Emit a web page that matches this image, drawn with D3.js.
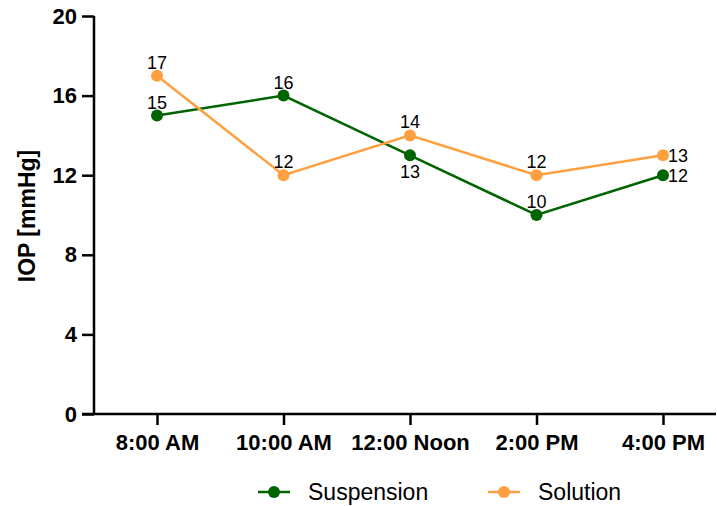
<!DOCTYPE html>
<html>
<head>
<meta charset="utf-8">
<script src="https://cdn.jsdelivr.net/npm/d3@7"></script>
<style>
  body { margin: 0; background: #fff; }
  text { font-family: Arial, "Liberation Sans", sans-serif; }
</style>
</head>
<body>
<svg id="chart" width="717" height="506"></svg>
<script>
// data
var times = ["8:00 AM", "10:00 AM", "12:00 Noon", "2:00 PM", "4:00 PM"];
var suspension = [15, 16, 13, 10, 12];
var solution = [17, 12, 14, 12, 13];
var yTicks = [0, 4, 8, 12, 16, 20];
// where each value label sits relative to its point
var suspensionLabelPos = ["above", "above", "below", "above", "right"];
var solutionLabelPos = ["above", "above", "above", "above", "right"];

var green = "#006400", orange = "#FFA040";

var svg = d3.select("#chart");
var x = d3.scalePoint().domain(times).range([157, 663]);
var y = d3.scaleLinear().domain([0, 20]).range([414, 16]);

// y axis
var yAxis = svg.append("g").attr("transform", "translate(94,0)")
  .call(d3.axisLeft(y).tickValues(yTicks).tickSize(12).tickPadding(5));
yAxis.select(".domain").attr("d", "M0," + y(20) + "V" + y(0));
yAxis.selectAll("line, path").attr("stroke", "#000").attr("stroke-width", 2.5);
yAxis.selectAll("text").attr("font-size", 22).attr("font-weight", "bold").attr("fill", "#000");

// x axis
var xAxis = svg.append("g").attr("transform", "translate(0," + y(0) + ")")
  .call(d3.axisBottom(x).tickSize(11).tickPadding(9));
xAxis.select(".domain").attr("d", "M82,0H716");
xAxis.selectAll("line, path").attr("stroke", "#000").attr("stroke-width", 2.5);
xAxis.selectAll("text").attr("font-size", 22).attr("font-weight", "bold").attr("fill", "#000");

svg.append("text")
  .attr("transform", "translate(35,216) rotate(-90)")
  .attr("text-anchor", "middle")
  .attr("font-size", 23).attr("font-weight", "bold")
  .text("IOP [mmHg]");

function drawSeries(values, color, labelPos) {
  var pts = values.map(function(v, i) { return { t: times[i], v: v, pos: labelPos[i] }; });
  var line = d3.line().x(function(d) { return x(d.t); }).y(function(d) { return y(d.v); });
  svg.append("path").datum(pts)
    .attr("d", line).attr("fill", "none")
    .attr("stroke", color).attr("stroke-width", 2.5);
  svg.selectAll(null).data(pts).enter().append("circle")
    .attr("cx", function(d) { return x(d.t); })
    .attr("cy", function(d) { return y(d.v); })
    .attr("r", 6).attr("fill", color);
  svg.selectAll(null).data(pts).enter().append("text")
    .attr("x", function(d) { return d.pos == "right" ? x(d.t) + 5 : x(d.t); })
    .attr("y", function(d) {
      if (d.pos == "above") return y(d.v) - 7;
      if (d.pos == "below") return y(d.v) + 23;
      return y(d.v) + 7;
    })
    .attr("text-anchor", function(d) { return d.pos == "right" ? "start" : "middle"; })
    .attr("font-size", 18).attr("fill", "#000")
    .text(function(d) { return d.v; });
}

drawSeries(suspension, green, suspensionLabelPos);
drawSeries(solution, orange, solutionLabelPos);

// legend
var legend = [
  { name: "Suspension", color: green, x: 258 },
  { name: "Solution", color: orange, x: 488 }
];
var lg = svg.selectAll("g.legend").data(legend).enter().append("g")
  .classed("legend", true)
  .attr("transform", function(d) { return "translate(" + d.x + ",492)"; });
lg.append("line").attr("x1", 0).attr("x2", 32).attr("y1", 0).attr("y2", 0)
  .attr("stroke", function(d) { return d.color; }).attr("stroke-width", 2.5);
lg.append("circle").attr("cx", 16).attr("cy", 0).attr("r", 6)
  .attr("fill", function(d) { return d.color; });
lg.append("text").attr("x", 50).attr("y", 8)
  .attr("font-size", 23).attr("fill", "#000")
  .text(function(d) { return d.name; });
</script>
</body>
</html>
